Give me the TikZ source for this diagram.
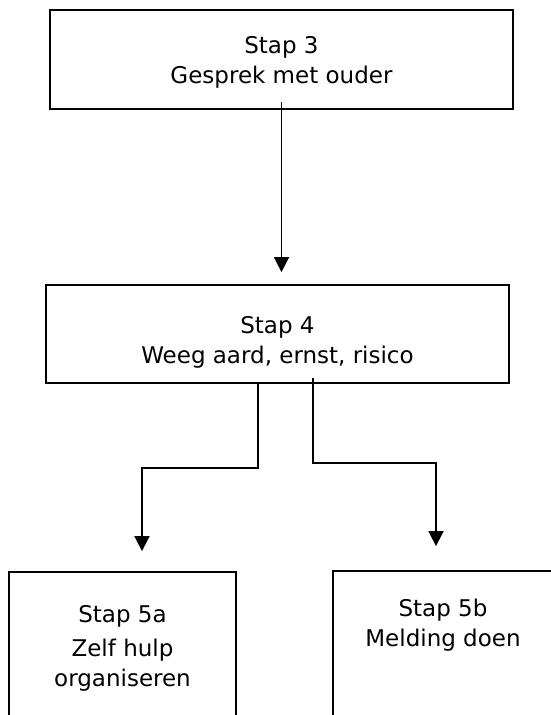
\documentclass[tikz,border=0pt]{standalone}
\usepackage{fontspec}
\setmainfont{DejaVu Sans}
\usetikzlibrary{arrows.meta,calc}
\begin{document}
\begin{tikzpicture}[x=1pt,y=-1pt,
  box/.style={draw=black,line width=1.8pt,inner sep=0pt,rectangle},
  txt/.style={align=center,inner sep=0pt,font=\fontsize{23}{30}\selectfont},
  arr/.style={draw=black,line width=1.7pt,-{Triangle[width=15pt,length=15pt]}}]
\useasboundingbox (0,0) rectangle (551,715);
\clip (0,0) rectangle (551,715);
% boxes
\node[box,minimum width=463pt,minimum height=99pt] (b3) at (281.5,59.5) {};
\node[box,minimum width=463pt,minimum height=98pt] (b4) at (277.5,334) {};
\node[box,minimum width=227pt,minimum height=200pt] (b5a) at (122.5,672) {};
\node[box,minimum width=267pt,minimum height=200pt] (b5b) at (466.5,671) {};
% texts
\node[txt] (t3) at (281.5,62) {Stap 3\\Gesprek met ouder};
\node[txt] (t4) at (277.5,342) {Stap 4\\Weeg aard, ernst, risico};
\node[txt] (t5a) at (122.5,648) {Stap 5a\\[4pt]Zelf hulp\\organiseren};
\node[txt] (t5b) at (443,625) {Stap 5b\\Melding doen};
% connectors
\draw[arr] ([yshift=8pt]b3.south) -- ([yshift=12pt]b3.south |- b4.north);
\draw[arr] ([xshift=-19.5pt,yshift=2pt]b4.south) -- ++(0,86) -| ([xshift=19.5pt,yshift=20pt]b5a.north);
\draw[arr] ([xshift=35.5pt,yshift=6pt]b4.south) -- ++(0,85) -| ([xshift=-30.5pt,yshift=24pt]b5b.north);
\end{tikzpicture}
\end{document}
